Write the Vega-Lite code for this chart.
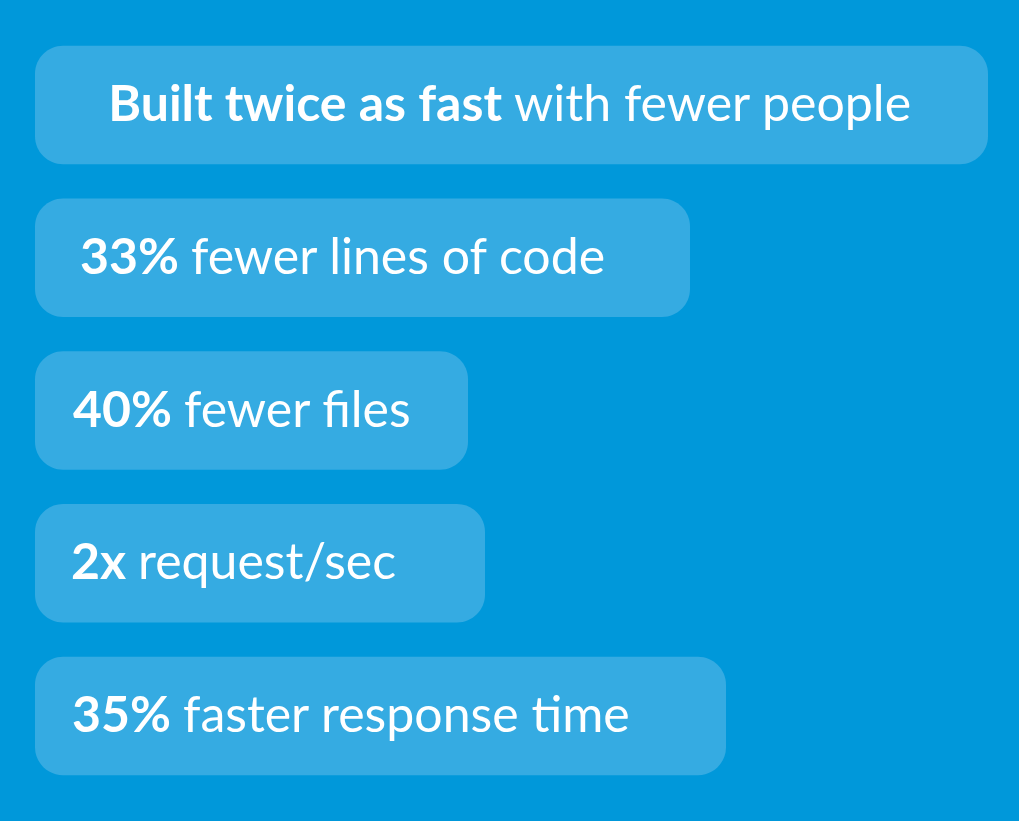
{
  "$schema": "https://vega.github.io/schema/vega-lite/v6.json",
  "width": 1019,
  "height": 821,
  "autosize": {"type": "fit", "contains": "padding"},
  "padding": 0,
  "background": "#0098da",
  "config": {"view": {"stroke": null}},
  "data": {
    "values": [
      {"row": 1, "bold": "Built twice as fast", "rest": "with fewer people", "end": 988, "split": 502},
      {"row": 2, "bold": "33%", "rest": "fewer lines of code", "end": 690, "split": 179},
      {"row": 3, "bold": "40%", "rest": "fewer files", "end": 468, "split": 172},
      {"row": 4, "bold": "2x", "rest": "request/sec", "end": 485, "split": 126},
      {"row": 5, "bold": "35%", "rest": "faster response time", "end": 726, "split": 171}
    ]
  },
  "encoding": {
    "y": {
      "field": "row",
      "type": "ordinal",
      "axis": null,
      "scale": {"paddingInner": 0.224, "paddingOuter": 0.3}
    }
  },
  "layer": [
    {
      "mark": {"type": "bar", "color": "#35abe2", "cornerRadius": 28},
      "encoding": {
        "x": {"field": "end", "type": "quantitative", "axis": null, "scale": {"domain": [0, 1019], "nice": false, "zero": true}},
        "x2": {"datum": 35}
      }
    },
    {
      "mark": {"type": "text", "align": "right", "baseline": "middle", "font": "Lato", "fontWeight": "bold", "fontSize": 50, "color": "white", "dy": 1},
      "encoding": {
        "x": {"field": "split", "type": "quantitative"},
        "text": {"field": "bold"}
      }
    },
    {
      "mark": {"type": "text", "align": "left", "baseline": "middle", "font": "Lato", "fontSize": 50, "color": "white", "dx": 12, "dy": 1},
      "encoding": {
        "x": {"field": "split", "type": "quantitative"},
        "text": {"field": "rest"}
      }
    }
  ]
}
